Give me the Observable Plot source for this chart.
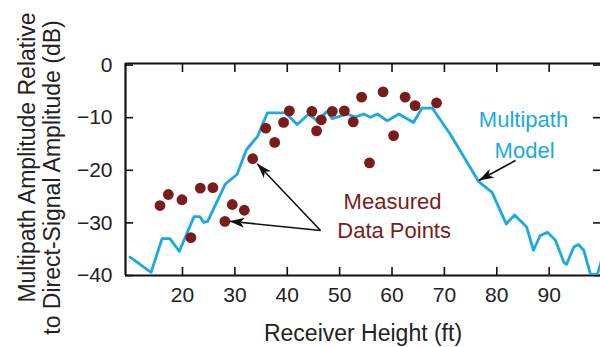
<!DOCTYPE html>
<html>
<head>
<meta charset="utf-8">
<script src="https://cdn.jsdelivr.net/npm/d3@7"></script>
<script src="https://cdn.jsdelivr.net/npm/@observablehq/plot@0.6"></script>
<style>
  html, body { margin: 0; padding: 0; background: #fff; overflow: hidden; }
</style>
</head>
<body>
<div id="chart"></div>
<script>
// Multipath model curve: receiver height (ft), amplitude (dB)
const modelHeight = [10.0, 14.0, 16.1, 17.6, 19.4, 22.2, 23.3, 24.1, 24.8, 28.2, 30.4, 32.2, 34.3, 36.2, 39.7, 41.9, 44.1, 45.7, 47.6, 48.6, 51.4, 53.0, 54.6, 55.9, 57.2, 59.1, 61.3, 64.1, 65.7, 67.7, 71.1, 76.5, 79.1, 81.8, 83.4, 85.7, 87.0, 88.3, 89.7, 91.2, 92.8, 93.3, 94.7, 95.6, 96.6, 97.9, 99.2, 100.2];
const modelDb = [-36.5, -39.4, -33.0, -33.0, -35.4, -28.8, -28.8, -29.9, -29.7, -22.6, -20.8, -16.1, -13.6, -9.1, -9.1, -11.3, -9.3, -10.6, -8.8, -10.2, -9.3, -9.9, -9.3, -9.9, -9.3, -10.6, -9.3, -10.9, -8.2, -8.2, -13.1, -22.1, -24.2, -30.2, -28.5, -30.8, -35.2, -32.4, -31.8, -33.3, -37.5, -37.9, -34.6, -34.1, -35.2, -39.8, -39.8, -36.5];

// Measured data points
const measHeight = [15.7, 17.3, 19.9, 21.6, 23.4, 25.8, 28.1, 29.5, 31.8, 33.4, 35.9, 37.6, 39.3, 40.4, 44.7, 45.6, 46.5, 48.6, 50.9, 52.6, 54.2, 55.7, 58.3, 60.3, 62.5, 64.4, 68.5];
const measDb = [-26.7, -24.6, -25.6, -32.8, -23.4, -23.3, -29.7, -26.5, -27.6, -17.8, -12.0, -14.7, -10.9, -8.7, -8.8, -12.5, -10.4, -8.8, -8.7, -10.8, -6.1, -18.6, -5.1, -13.4, -6.1, -7.7, -7.2];

// Axes
const xTicks = [20, 30, 40, 50, 60, 70, 80, 90];
const yTicks = [0, -10, -20, -30, -40];
const xDomain = [9.12, 99.8];
const yDomain = [-40, 0.3];
const xTitle = "Receiver Height (ft)";
const yTitleLines = ["Multipath Amplitude Relative", "to Direct-Signal Amplitude (dB)"];

// Annotations (data coordinates)
const measuredLabel = [{t: "Measured", x: 60.1, y: -26.1}, {t: "Data Points", x: 60.4, y: -31.5}];
const modelLabel = [{t: "Multipath", x: 85.1, y: -10.4}, {t: "Model", x: 85.3, y: -16.4}];
const arrows = [
  {x1: 46.35, y1: -31.45, x2: 34.26, y2: -18.77},
  {x1: 46.35, y1: -31.45, x2: 28.97, y2: -29.68},
  {x1: 83.58, y1: -18.14, x2: 76.57, y2: -21.94}
];

const model = modelHeight.map((h, i) => ({h, db: modelDb[i]}));
const meas = measHeight.map((h, i) => ({h, db: measDb[i]}));

const cyan = "#1aaadf";
const red = "#7a1c1c";
const ink = "#222";

const svg = Plot.plot({
  width: 600,
  height: 347,
  marginLeft: 125,
  marginRight: 0,
  marginTop: 63,
  marginBottom: 72,
  style: {fontFamily: "Liberation Sans, Arial, sans-serif", fontSize: "21px", color: ink, background: "#fff"},
  x: {domain: xDomain},
  y: {domain: yDomain},
  marks: [
    Plot.axisX({ticks: xTicks, tickSize: -8, tickPadding: 20, label: null, stroke: "#111", strokeWidth: 1.6, fill: ink, fontSize: 21}),
    Plot.axisX({anchor: "top", ticks: xTicks, tickSize: -8, tickFormat: () => "", label: null, stroke: "#111", strokeWidth: 1.6}),
    Plot.axisY({ticks: yTicks, tickSize: -8, tickPadding: 21, label: null, stroke: "#111", strokeWidth: 1.6, fill: ink, fontSize: 21}),
    Plot.axisY({anchor: "right", ticks: yTicks, tickSize: -8, tickFormat: () => "", label: null, stroke: "#111", strokeWidth: 1.6}),
    Plot.ruleY([yDomain[0], yDomain[1]], {stroke: "#111", strokeWidth: 2.2}),
    Plot.ruleX([xDomain[0]], {stroke: "#111", strokeWidth: 2.2}),
    Plot.line(model, {x: "h", y: "db", stroke: cyan, strokeWidth: 2.8, clip: true}),
    Plot.dot(meas, {x: "h", y: "db", r: 5.4, fill: red, stroke: null}),
    Plot.link(arrows, {x1: "x1", y1: "y1", x2: "x2", y2: "y2", stroke: "#111", strokeWidth: 1.6}),
    Plot.text(measuredLabel, {x: "x", y: "y", text: "t", fill: red, fontSize: 22, lineAnchor: "middle"}),
    Plot.text(modelLabel, {x: "x", y: "y", text: "t", fill: cyan, fontSize: 22, lineAnchor: "middle"}),
    Plot.text([xTitle], {frameAnchor: "bottom", dy: 58, fill: ink, fontSize: 23, textAnchor: "middle", lineAnchor: "middle"}),
    Plot.text([yTitleLines[0]], {frameAnchor: "left", dx: -98, dy: -12, rotate: -90, fill: ink, fontSize: 23, textAnchor: "middle", lineAnchor: "middle"}),
    Plot.text([yTitleLines[1]], {frameAnchor: "left", dx: -73, dy: 8, rotate: -90, fill: ink, fontSize: 23, textAnchor: "middle", lineAnchor: "middle"})
  ]
});

const sel = d3.select(svg);
const defs = sel.insert("defs", ":first-child");
defs.append("marker")
  .attr("id", "ahead")
  .attr("viewBox", "0 0 15 10")
  .attr("refX", 15).attr("refY", 5)
  .attr("markerWidth", 15).attr("markerHeight", 10)
  .attr("markerUnits", "userSpaceOnUse")
  .attr("orient", "auto")
  .attr("preserveAspectRatio", "none")
  .append("path").attr("d", "M0,0L15,5L0,10L4,5Z").attr("fill", "#111");
sel.selectAll("g[aria-label=link] path").attr("marker-end", "url(#ahead)");

document.getElementById("chart").appendChild(svg);
</script>
</body>
</html>
